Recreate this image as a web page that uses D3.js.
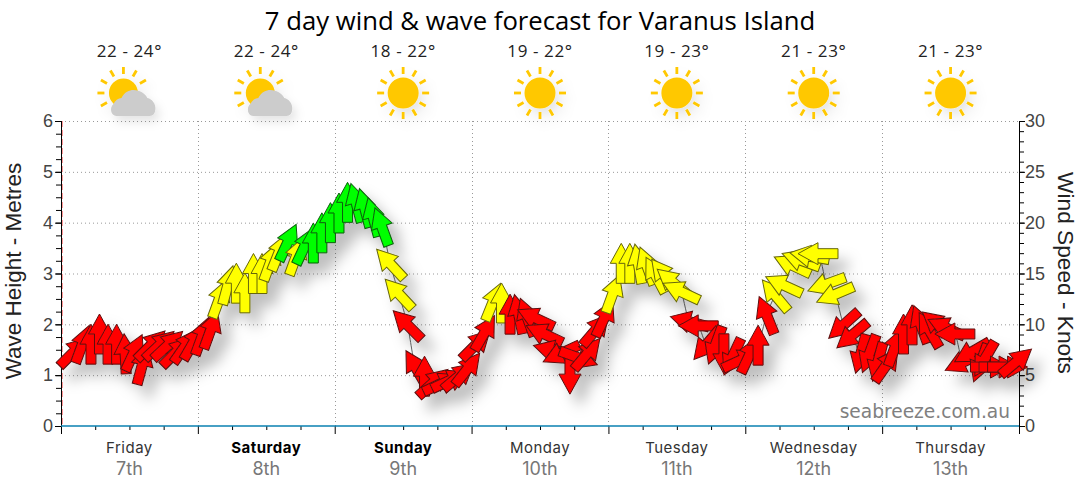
<!DOCTYPE html>
<html>
<head>
<meta charset="utf-8">
<script src="https://cdn.jsdelivr.net/npm/d3@7"></script>
<style>
body { margin: 0; background: #fff; }
svg { display: block; }
</style>
</head>
<body>
<div id="chart"></div>
<script>
const dayNames = ["Friday", "Saturday", "Sunday", "Monday", "Tuesday", "Wednesday", "Thursday"];
const dayDates = ["7th", "8th", "9th", "10th", "11th", "12th", "13th"];
const boldDays = ["Saturday", "Sunday"];
const tempRanges = ["22 - 24°", "22 - 24°", "18 - 22°", "19 - 22°", "19 - 23°", "21 - 23°", "21 - 23°"];
const cloudyDays = [true, true, false, false, false, false, false];

// hours since friday 00:00
const hours = [2.25,3.75,5.25,6.75,8.25,9.75,11.25,12.75,14.25,15.75,17.25,18.75,20.25,21.75,23.25,24.75,26.25,27.75,
    29.25,30.75,32.25,33.75,35.25,36.75,38.25,39.75,41.25,42.75,44.25,45.75,47.25,48.75,50.25,51.75,53.25,54.75,56.25,
    57.75,59.25,60.75,62.25,63.75,65.25,66.75,68.25,69.75,71.25,72.75,74.25,75.75,77.25,78.75,80.25,81.75,83.25,84.75,
    86.25,87.75,89.25,90.75,92.25,93.75,95.25,96.75,98.25,99.75,101.25,102.75,104.25,105.75,107.25,108.75,110.25,111.75,
    113.25,114.75,116.25,117.75,119.25,120.75,122.25,123.75,125.25,126.75,128.25,129.75,131.25,132.75,134.25,135.75,
    137.25,138.75,140.25,141.75,143.25,144.75,146.25,147.75,149.25,150.75,152.25,153.75,155.25,156.75,158.25,159.75,
    161.25,162,163,164.5,166,167.5];
const waveHeight = [1.46,1.61,1.61,1.81,1.61,1.61,1.42,1.44,1.20,1.59,1.59,1.59,1.46,1.57,1.65,1.77,1.89,
    2.50,2.77,2.81,2.62,3.00,3.00,3.23,3.42,3.61,3.34,3.54,3.60,3.80,4.00,4.19,4.40,4.39,4.29,4.11,3.92,
    3.19,2.60,1.99,1.14,0.98,0.85,0.84,0.90,0.98,1.12,1.60,1.83,2.44,2.42,2.20,2.20,2.14,2.12,1.81,1.48,
    1.43,1.02,1.34,1.42,1.89,2.12,2.60,3.20,3.20,3.19,3.15,2.97,2.97,2.83,2.64,2.05,1.97,1.61,1.59,1.42,1.36,1.30,1.40,1.59,
    2.18,2.57,2.77,3.16,3.26,3.34,3.39,2.79,2.59,1.99,1.79,1.42,1.42,1.26,1.20,1.55,1.81,1.99,2.00,1.89,1.99,1.93,1.81,
    1.26,1.46,1.24,1.32,1.16,1.16,1.16,1.26];
const windHeading = [45,20,0,0,0,0,-3,25,15,45,47,47,45,35,30,20,20,
    20,15,0,0,0,0,20,22,25,20,25,0,0,0,0,0,-15,-15,-15,-20,
    -43,-43,-45,-30,0,48,65,65,50,38,45,30,22,0,0,-12,-20,-65,-65,-75,
    -115,180,110,40,40,25,20,0,0,-10,-20,-28,-38,-50,-65,-75,-90,-140,-160,180,-155,65,25,0,
    -22,-40,-65,-65,-70,-80,-90,-110,-113,-132,-130,-165,-160,-165,35,20,0,0,-20,-30,-50,-65,-90,
    -115,-120,-160,-150,90,90,90,50];
const windBand = ["r","r","r","r","r","r","r","r","r","r","r","r","r","r","r","r","r",
    "y","y","y","y","y","y","y","y","g","y","g","g","g","g","g","g","g","g","g","g",
    "y","y","r","r","r","r","r","r","r","r","r","r","y","y","r","r","r","r","r","r",
    "r","r","r","r","r","r","y","y","y","y","y","y","y","y","y","r","r","r","r","r","r","r","r","r",
    "r","y","y","y","y","y","y","y","y","r","r","r","r","r","r","r","r","r","r","r","r","r","r",
    "r","r","r","r","r","r","r","r"];

const bandFill = { r: "#ff0000", y: "#ffff00", g: "#00ff00" };
const bandStroke = { r: "#5c0f0f", y: "#66660a", g: "#0b5c0b" };

const points = hours.map((h, i) => ({ h: h, wave: waveHeight[i], dir: windHeading[i], band: windBand[i] }));

const width = 1080, height = 490;
const margins = { top: 121, right: 61, bottom: 64, left: 61 };

const svg = d3.select("#chart").append("svg")
    .attr("width", width)
    .attr("height", height);

const x = d3.scaleLinear().domain([0, 168]).range([margins.left, width - margins.right]);
const y = d3.scaleLinear().domain([0, 6]).range([height - margins.bottom, margins.top]);
const yWind = d3.scaleLinear().domain([0, 30]).range([height - margins.bottom, margins.top]);

const defs = svg.append("defs");
const shadow = defs.append("filter").attr("id", "arrow-shadow")
    .attr("x", "-10%").attr("y", "-10%").attr("width", "120%").attr("height", "130%");
shadow.append("feDropShadow").attr("dx", 10).attr("dy", 12).attr("stdDeviation", 7)
    .attr("flood-color", "#000").attr("flood-opacity", 0.25);
const iconShadow = defs.append("filter").attr("id", "icon-shadow")
    .attr("x", "-30%").attr("y", "-30%").attr("width", "170%").attr("height", "170%");
iconShadow.append("feDropShadow").attr("dx", 4).attr("dy", 6).attr("stdDeviation", 5)
    .attr("flood-color", "#000").attr("flood-opacity", 0.1);

// grid
svg.append("g").selectAll("line")
    .data(d3.range(1, 7))
    .join("line")
    .attr("x1", x(0)).attr("x2", x(168))
    .attr("y1", d => y(d) + 0.5).attr("y2", d => y(d) + 0.5)
    .attr("stroke", "#999").attr("stroke-dasharray", "1,3");
svg.append("g").selectAll("line")
    .data(d3.range(24, 168, 24))
    .join("line")
    .attr("x1", d => Math.round(x(d)) + 0.5).attr("x2", d => Math.round(x(d)) + 0.5)
    .attr("y1", y(6)).attr("y2", y(0))
    .attr("stroke", "#999").attr("stroke-dasharray", "1,3");

// axes
const tickText = g => g.selectAll("text")
    .attr("font-family", "'Liberation Sans', Arial, sans-serif")
    .attr("font-size", 18)
    .attr("fill", "#444");

svg.append("g").attr("transform", `translate(${margins.left},0)`)
    .call(d3.axisLeft(y).tickValues(d3.range(0, 6.01, 0.25)).tickSize(5).tickFormat(""))
    .call(g => g.select(".domain").remove());
const gLeft = svg.append("g").attr("transform", `translate(${margins.left},0)`)
    .call(d3.axisLeft(y).ticks(6).tickSize(6).tickPadding(2))
    .call(tickText);
gLeft.select(".domain").attr("d", `M0.5,${y(6)}V${y(0)}`);
svg.append("line")
    .attr("x1", margins.left + 1.5).attr("x2", margins.left + 1.5)
    .attr("y1", y(6)).attr("y2", y(0))
    .attr("stroke", "#ff9a9a").attr("stroke-dasharray", "6,3");

svg.append("g").attr("transform", `translate(${width - margins.right},0)`)
    .call(d3.axisRight(yWind).tickValues(d3.range(0, 30.01, 1)).tickSize(5).tickFormat(""))
    .call(g => g.select(".domain").remove());
const gRight = svg.append("g").attr("transform", `translate(${width - margins.right},0)`)
    .call(d3.axisRight(yWind).tickValues(d3.range(0, 31, 5)).tickSize(6).tickPadding(0))
    .call(tickText);
gRight.select(".domain").attr("d", `M0.5,${yWind(30)}V${yWind(0)}`);

svg.append("g").attr("transform", `translate(0,${height - margins.bottom})`)
    .call(d3.axisBottom(x).tickValues(d3.range(0, 169, 24)).tickSize(8).tickFormat(""))
    .call(g => g.select(".domain").remove());
svg.append("g").attr("transform", `translate(0,${height - margins.bottom})`)
    .call(d3.axisBottom(x).tickValues(d3.range(6, 168, 6).filter(d => d % 24)).tickSize(4).tickFormat(""))
    .call(g => g.select(".domain").remove());
svg.append("line")
    .attr("x1", x(0)).attr("x2", x(168))
    .attr("y1", y(0)).attr("y2", y(0))
    .attr("stroke", "#0a80b0").attr("stroke-width", 1.4);

// day labels
const dayLabels = svg.append("g").attr("text-anchor", "middle").attr("font-family", "Inter, Roboto, sans-serif");
dayLabels.selectAll("text.day")
    .data(dayNames)
    .join("text")
    .attr("class", "day")
    .attr("x", (d, i) => x(i * 24 + 12))
    .attr("y", 453)
    .attr("font-size", 15)
    .attr("letter-spacing", 0.5)
    .attr("font-weight", d => boldDays.includes(d) ? 700 : 400)
    .attr("fill", d => boldDays.includes(d) ? "#000" : "#333")
    .text(d => d);
dayLabels.selectAll("text.date")
    .data(dayDates)
    .join("text")
    .attr("class", "date")
    .attr("x", (d, i) => x(i * 24 + 12))
    .attr("y", 475)
    .attr("font-size", 18)
    .attr("fill", "#777")
    .text(d => d);

// wave line behind arrows
const lineGen = d3.line().x(d => x(d.h)).y(d => y(d.wave)).curve(d3.curveMonotoneX);
svg.append("path").datum(points)
    .attr("d", lineGen)
    .attr("fill", "none")
    .attr("stroke", "#666")
    .attr("stroke-width", 1);

// arrows, later ones drawn on top
const arrowPath = "M0,-20L11,0L5,0L5,20L-5,20L-5,0L-11,0Z";
svg.append("g").attr("filter", "url(#arrow-shadow)")
    .selectAll("path")
    .data(points)
    .join("path")
    .attr("d", arrowPath)
    .attr("transform", d => `translate(${x(d.h)},${y(d.wave)}) rotate(${d.dir})`)
    .attr("fill", d => bandFill[d.band])
    .attr("stroke", d => bandStroke[d.band])
    .attr("stroke-width", 1);

// title and axis titles
svg.append("text")
    .attr("x", 540).attr("y", 30)
    .attr("text-anchor", "middle")
    .attr("font-family", "'Open Sans', sans-serif")
    .attr("font-size", 25.7)
    .attr("fill", "#000")
    .text("7 day wind & wave forecast for Varanus Island");

svg.append("text")
    .attr("transform", "translate(21,271) rotate(-90)")
    .attr("text-anchor", "middle")
    .attr("font-family", "'Liberation Sans', Arial, sans-serif")
    .attr("font-size", 22.5)
    .attr("fill", "#222")
    .text("Wave Height - Metres");
svg.append("text")
    .attr("transform", "translate(1058,273) rotate(90)")
    .attr("text-anchor", "middle")
    .attr("font-family", "'Liberation Sans', Arial, sans-serif")
    .attr("font-size", 22.7)
    .attr("fill", "#222")
    .text("Wind Speed - Knots");

svg.append("text")
    .attr("x", 1010).attr("y", 418)
    .attr("text-anchor", "end")
    .attr("font-family", "'DejaVu Sans', sans-serif")
    .attr("font-size", 18.6)
    .attr("fill", "#808080")
    .text("seabreeze.com.au");

// temperature + weather icons
const iconX = i => x(i * 24 + 12);
svg.append("g").selectAll("text")
    .data(tempRanges)
    .join("text")
    .attr("x", (d, i) => iconX(i))
    .attr("y", 57)
    .attr("text-anchor", "middle")
    .attr("font-family", "'Open Sans', sans-serif")
    .attr("font-size", 17)
    .attr("letter-spacing", 0.6)
    .attr("fill", "#222")
    .text(d => d);

const rayAngles = d3.range(0, 360, 30);
tempRanges.forEach((t, i) => {
    const g = svg.append("g")
        .attr("transform", `translate(${iconX(i)},93)`)
        .attr("filter", "url(#icon-shadow)");
    const cloudy = cloudyDays[i];
    const sx = cloudy ? -6 : 0;
    g.selectAll("rect.ray")
        .data(cloudy ? rayAngles.filter(a => a <= 60 || a >= 240) : rayAngles)
        .join("rect")
        .attr("x", -1.4).attr("y", -26).attr("width", 2.8).attr("height", 7)
        .attr("fill", "#ffc800")
        .attr("transform", a => `translate(${sx},0) rotate(${a})`);
    g.append("circle").attr("cx", sx).attr("cy", 0).attr("r", cloudy ? 14.5 : 15.5).attr("fill", "#ffc800");
    if (cloudy) {
        g.append("path")
            .attr("d", "M-13,23 C-19,23 -20,14 -16,11 C-14,7 -11,5 -8,5 C-5,-1 0,-3 4,-3 C11,-3 16,1 18,5 C23,6 26,11 26,15 C26,20 24,23 20,23 Z")
            .attr("fill", "#ccc");
    }
});
</script>
</body>
</html>
